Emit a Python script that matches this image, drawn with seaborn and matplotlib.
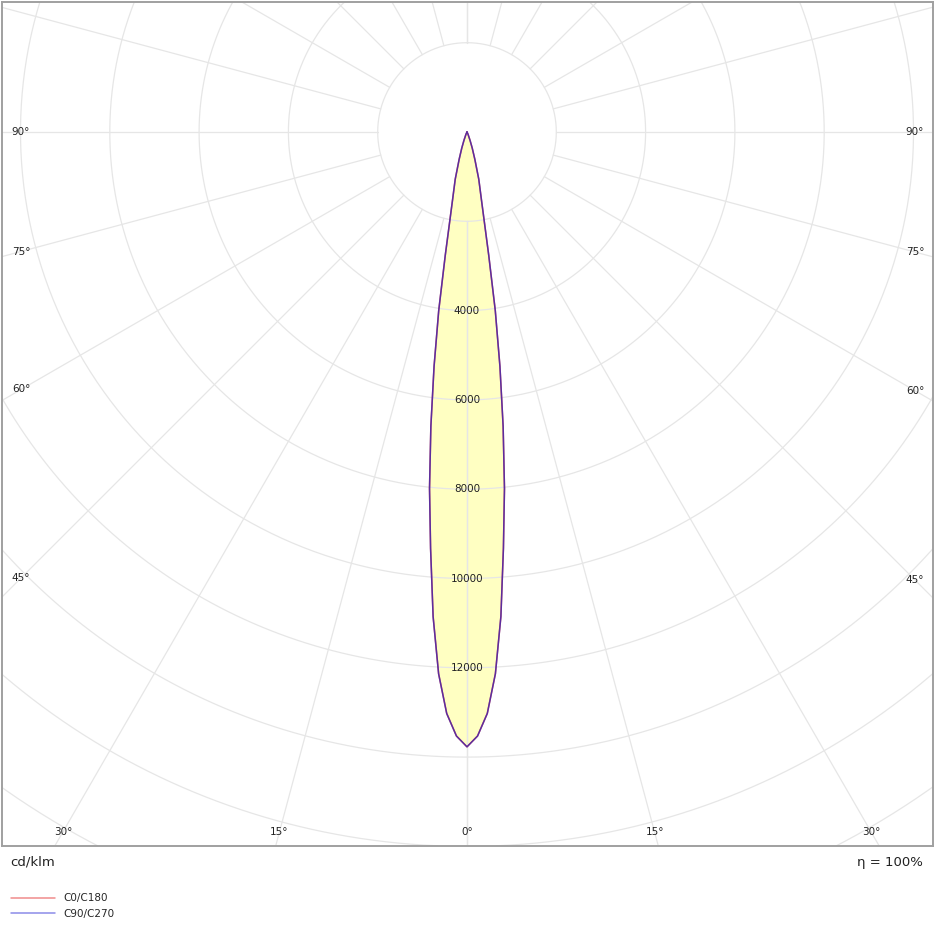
import numpy as np
import pandas as pd
import seaborn as sns
import matplotlib.pyplot as plt
from matplotlib.lines import Line2D

# luminous intensity (cd/klm), per gamma angle
gamma = [0, 1, 2, 3, 4, 5, 6, 7, 8, 9, 10, 12, 14, 16, 18, 20, 25, 30]
c0_c180 = [13770, 13530, 13030, 12150, 10880, 9360, 8030, 6640, 5300, 4050,
           2800, 1560, 1090, 640, 380, 200, 50, 0]
c90_c270 = [13770, 13530, 13030, 12150, 10880, 9360, 8030, 6640, 5300, 4050,
            2800, 1560, 1090, 640, 380, 200, 50, 0]

ring_values = list(range(2000, 24000, 2000))
ring_labels = [4000, 6000, 8000, 10000, 12000]
spoke_angles = list(range(0, 181, 15))
side_labels = [45, 60, 75, 90]
bottom_labels = [0, 15, 30]
series_names = ["C0/C180", "C90/C270"]


def curve_xy(vals):
    g = np.radians(np.array(gamma, dtype=float))
    v = np.array(vals, dtype=float)
    # left half (C180 / C270) then right half (C0 / C90)
    x = np.concatenate([-(v * np.sin(g))[::-1], v * np.sin(g)])
    y = np.concatenate([-(v * np.cos(g))[::-1], -v * np.cos(g)])
    return pd.DataFrame({"x": x, "y": y})


sns.set_style("white")
plt.rcParams['font.family'] = ['DejaVu Sans']

fig = plt.figure(figsize=(9.35, 9.3), dpi=100)
ax = fig.add_axes([2 / 935, 1 - 846 / 930, 931 / 935, 844 / 930])

s = 2000 / 89.3  # cd per pixel
ax.set_xlim(-465 * s, 466 * s)
ax.set_ylim(-714 * s, 130 * s)
xl, yl = ax.get_xlim(), ax.get_ylim()

grid_col = "#e6e6e6"
t = np.linspace(0, 2 * np.pi, 721)
for r in ring_values:
    ax.plot(r * np.sin(t), r * np.cos(t), color=grid_col, lw=0.9, zorder=2)
rr = np.array([2000, 30000])
for a in spoke_angles:
    ar = np.radians(a)
    for sgn in (1, -1):
        ax.plot(sgn * rr * np.sin(ar), -rr * np.cos(ar), color=grid_col, lw=0.9, zorder=2)

d1 = curve_xy(c0_c180)
d2 = curve_xy(c90_c270)
ax.fill(d1["x"], d1["y"], color="#ffffc2", zorder=1, lw=0)
sns.lineplot(data=d1, x="x", y="y", sort=False, estimator=None, color="#e05a5a",
             lw=1.1, ax=ax, zorder=3)
sns.lineplot(data=d2, x="x", y="y", sort=False, estimator=None, color="#3a22b0",
             lw=1.1, alpha=0.8, ax=ax, zorder=4)

for v in ring_labels:
    ax.text(0, -v, str(v), ha="center", va="center", fontsize=7.5, color="#222222", zorder=5)

for a in side_labels:
    ar = np.radians(a)
    for xe in (xl[0] + 19 * s, xl[1] - 18 * s):
        y = -abs(xe) / np.tan(ar) if a != 90 else 0
        ax.text(xe, y, f"{a}°", ha="center", va="center", fontsize=7.5, color="#222222")
for a in bottom_labels:
    ar = np.radians(a)
    ye = yl[0] + 14 * s
    for sgn in ((1,) if a == 0 else (-1, 1)):
        xe = sgn * abs(ye) * np.tan(ar)
        ax.text(xe, ye, f"{a}°", ha="center", va="center", fontsize=7.5, color="#222222")

ax.set_xlim(xl)
ax.set_ylim(yl)
ax.set_xticks([])
ax.set_yticks([])
ax.set_xlabel("")
ax.set_ylabel("")
for sp in ax.spines.values():
    sp.set_visible(True)
    sp.set_color("#a0a0a0")
    sp.set_linewidth(1.4)

handles = [Line2D([], [], color="#f08c8c", lw=1.1), Line2D([], [], color="#8c8ce8", lw=1.1)]
fig.legend(handles, series_names, loc="upper left", bbox_to_anchor=(0.002, 1 - 884 / 930),
           frameon=False, fontsize=7.5, handlelength=4.2, labelspacing=0.55, handletextpad=0.8)

fig.text(10 / 935, 1 - 862 / 930, "cd/klm", fontsize=9.5, va="center", ha="left", color="#222222")
fig.text(923 / 935, 1 - 862 / 930, "η = 100%", fontsize=9.5, va="center", ha="right", color="#222222")

fig.savefig("out.png", dpi=100)
